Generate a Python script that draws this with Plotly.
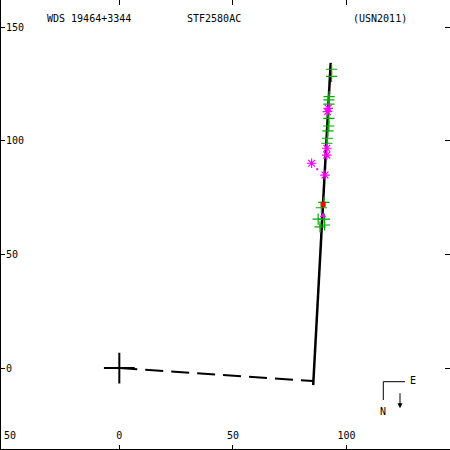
import plotly.graph_objects as go

# Fitted motion line and perpendicular from primary
line_x = [85.3, 93.0]
line_y = [-7.5, 134.4]
perp_x = [0.0, 85.2]
perp_y = [0.0, -5.7]

# Primary star
prim_x = [0.0]
prim_y = [0.0]

# Observations (green +)
green_x = [93.4, 93.4, 92.3, 92.2, 92.2, 92.2, 92.2, 91.8, 91.6, 91.3, 90.0, 88.9, 87.5, 90.3, 88.3, 90.3]
green_y = [131.6, 128.5, 119.5, 118.1, 116.2, 110.0, 106.6, 104.5, 101.2, 99.0, 73.0, 70.6, 65.6, 65.6, 62.2, 63.0]

# Observations (magenta *)
mag_x = [91.9, 91.6, 91.3, 91.3, 84.6, 90.5]
mag_y = [114.4, 112.9, 96.8, 93.8, 90.2, 85.0]

# Other markers
red_x = [89.7]
red_y = [72.1]
tri_x = [89.6]
tri_y = [67.1]
dot_x = [87.1]
dot_y = [87.6]

x_tickvals = [-50, 0, 50, 100]
x_ticktext = ['50', '0', '50', '100']
y_tickvals = [0, 50, 100, 150]
y_ticktext = ['0', '50', '100', '150']

fig = go.Figure()
fig.add_trace(go.Scatter(x=perp_x, y=perp_y, mode='lines',
                         line=dict(color='black', width=2, dash='18px,8px')))
fig.add_trace(go.Scatter(x=line_x, y=line_y, mode='lines',
                         line=dict(color='black', width=2.5)))
fig.add_trace(go.Scatter(x=green_x, y=green_y, mode='markers',
                         marker=dict(symbol='cross-thin', size=8,
                                     line=dict(color='rgb(0,170,0)', width=1.2))))
fig.add_trace(go.Scatter(x=mag_x, y=mag_y, mode='markers',
                         marker=dict(symbol='asterisk', size=8,
                                     line=dict(color='#ff00ff', width=1.2))))
fig.add_trace(go.Scatter(x=red_x, y=red_y, mode='markers',
                         marker=dict(symbol='square', size=5, color='red')))
fig.add_trace(go.Scatter(x=tri_x, y=tri_y, mode='markers',
                         marker=dict(symbol='triangle-up', size=6, color='#ff00ff')))
fig.add_trace(go.Scatter(x=dot_x, y=dot_y, mode='markers',
                         marker=dict(symbol='square', size=2, color='#ff00ff')))
fig.add_trace(go.Scatter(x=prim_x, y=prim_y, mode='markers',
                         marker=dict(symbol='cross-thin', size=22,
                                     line=dict(color='black', width=2))))

font = dict(family='DejaVu Sans Mono', size=10, color='black')

fig.update_layout(
    width=450, height=450,
    margin=dict(l=0, r=0, t=0, b=0),
    plot_bgcolor='white', paper_bgcolor='white',
    showlegend=False,
    font=font,
)
fig.update_xaxes(range=[-52.5, 145.5], showgrid=False, zeroline=False, showline=False,
                 ticks='inside', ticklen=5, tickwidth=1, tickcolor='black', mirror='ticks',
                 tickvals=x_tickvals, ticktext=x_ticktext, ticklabelstandoff=3,
                 ticklabelposition='inside', tickfont=font)
fig.update_yaxes(range=[-36.1, 162.1], showgrid=False, zeroline=False, showline=False,
                 ticks='inside', ticklen=5, tickwidth=1, tickcolor='black', mirror='ticks',
                 tickvals=y_tickvals, ticktext=y_ticktext,
                 ticklabelposition='inside', tickfont=font)

W = 450.0
def px(x):
    return x / W
def py(y):
    return 1 - y / W

shapes = [
    dict(type='line', xref='paper', yref='paper', x0=0, x1=0, y0=0, y1=1,
         line=dict(color='black', width=2)),
    dict(type='line', xref='paper', yref='paper', x0=0, x1=1, y0=0, y1=0,
         line=dict(color='black', width=2)),
    dict(type='line', xref='paper', yref='paper', x0=px(383.3), x1=px(405), y0=py(381.7), y1=py(381.7),
         line=dict(color='black', width=1)),
    dict(type='line', xref='paper', yref='paper', x0=px(383.3), x1=px(383.3), y0=py(381.7), y1=py(400),
         line=dict(color='black', width=1)),
]
fig.update_layout(shapes=shapes)

annotations = [
    dict(text='WDS 19464+3344', x=px(45), y=py(18), xanchor='left', yanchor='middle'),
    dict(text='STF2580AC', x=px(185), y=py(18), xanchor='left', yanchor='middle'),
    dict(text='(USN2011)', x=px(351), y=py(18), xanchor='left', yanchor='middle'),
    dict(text='N', x=px(382.7), y=py(411.7), xanchor='center', yanchor='middle'),
    dict(text='E', x=px(412.7), y=py(380.7), xanchor='center', yanchor='middle'),
    # leftmost x tick label (clipped at the edge, so Plotly hides it)
    dict(text=x_ticktext[0], x=px(2), y=py(435), xanchor='left', yanchor='middle'),
]
for a in annotations:
    a.update(xref='paper', yref='paper', showarrow=False, font=font)
annotations.append(dict(text='', x=px(400), y=py(408.3), xref='paper', yref='paper',
                        showarrow=True, ax=0, ay=-16.6, arrowhead=2, arrowsize=1,
                        arrowwidth=1, arrowcolor='black'))
fig.update_layout(annotations=annotations)

fig.write_html('out.html', config={'displayModeBar': False},
               post_script="document.body.style.margin='0';document.body.style.overflow='hidden';")
